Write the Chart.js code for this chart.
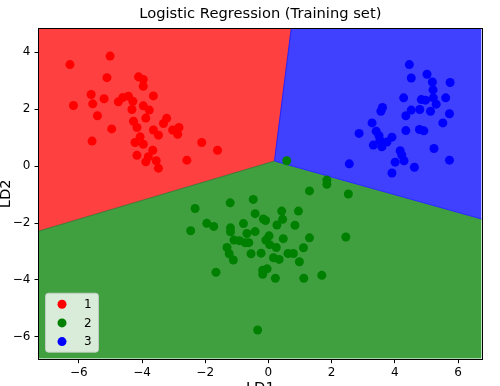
<!DOCTYPE html>
<html>
<head>
<meta charset="utf-8">
<script src="https://cdn.jsdelivr.net/npm/chart.js@4.4.1/dist/chart.umd.min.js"></script>
<style>
  html, body { margin: 0; padding: 0; background: #fff; }
  #wrap { width: 500px; height: 386px; }
</style>
</head>
<body>
<div id="wrap"><canvas id="chart" width="500" height="386"></canvas></div>
<script>
// axis limits and ticks
const xLimits = [-7.26, 6.75];
const yLimits = [-6.77, 4.82];
const xTicks = [-6, -4, -2, 0, 2, 4, 6];
const yTicks = [-6, -4, -2, 0, 2, 4];

// decision boundary: left edge -> meeting point -> top edge / right edge
const redGreenEdge = [[-7.26, -2.28], [0.19, 0.18]];
const redBlueEdge = [[0.19, 0.18], [0.72, 4.82]];
const blueGreenEdge = [[0.19, 0.18], [6.75, -1.86]];

// training points, one pair of arrays per class
const class1X = [-6.28, -5.01, -5.11, -4.11, -3.96, -3.96, -5.61, -5.20, -6.17, -5.56, -4.75, -4.61, -4.43, -4.29, -4.32,
  -3.96, -3.77, -3.64, -5.41, -3.88, -4.96, -4.27, -4.16, -3.22, -3.32, -3.64, -3.48, -3.03, -2.83, -2.87,
  -5.58, -4.06, -4.22, -3.96, -3.66, -4.16, -3.80, -3.88, -3.55, -3.48, -2.58, -2.11, -1.61];
const class1Y = [3.57, 3.87, 3.11, 3.14, 3.05, 2.81, 2.52, 2.37, 2.13, 2.19, 2.26, 2.41, 2.46, 2.28, 1.99,
  2.12, 1.97, 2.47, 1.77, 1.69, 1.31, 1.58, 1.36, 1.68, 1.50, 1.27, 1.09, 1.27, 1.36, 1.12,
  0.88, 1.03, 0.83, 0.77, 0.56, 0.38, 0.33, 0.15, 0.19, -0.07, 0.21, 0.83, 0.56];

const class2X = [0.58, 1.85, 1.85, 1.30, 2.53, -0.48, -1.21, -2.32, -0.42, 0.42, 0.95, -0.16, -0.09, 0.45, -1.95,
  -1.73, -0.79, 0.27, 0.84, -1.20, -1.20, -2.46, -0.68, -0.42, 0.02, 0.47, 1.30, 2.45, -1.09, -0.92,
  -0.74, -0.62, -0.08, 0.04, 0.25, 1.11, -1.31, -1.24, -1.11, -0.55, -0.23, 0.62, 0.79, 0.16, 0.34,
  0.98, -0.18, -0.04, -0.18, 0.22, 1.12, 1.69, -1.66, -0.34];
const class2Y = [0.19, -0.49, -0.64, -0.87, -0.98, -1.17, -1.29, -1.49, -1.67, -1.58, -1.58, -1.86, -1.91, -1.87, -2.01,
  -2.12, -2.02, -2.07, -2.08, -2.17, -2.31, -2.27, -2.37, -2.30, -2.45, -2.55, -2.52, -2.49, -2.60, -2.62,
  -2.69, -2.69, -2.60, -2.76, -2.86, -2.87, -2.86, -3.08, -3.30, -3.08, -3.06, -3.07, -3.07, -3.22, -3.28,
  -3.36, -3.66, -3.61, -3.80, -3.94, -3.94, -3.84, -3.73, -5.76];

const class3X = [4.46, 4.52, 5.02, 5.19, 5.75, 5.21, 4.28, 4.84, 4.97, 5.22, 5.31, 5.61, 3.61, 3.56, 4.52,
  4.79, 5.13, 4.35, 5.73, 5.52, 3.28, 2.87, 3.41, 3.50, 3.53, 3.91, 3.75, 3.32, 3.59, 4.35,
  4.78, 4.92, 4.17, 4.22, 4.29, 4.01, 3.91, 4.62, 5.24, 5.73, 2.56];
const class3Y = [3.57, 3.10, 3.23, 2.96, 2.94, 2.68, 2.40, 2.34, 2.32, 2.40, 2.18, 2.40, 2.06, 1.93, 1.97,
  1.99, 1.93, 1.77, 1.84, 1.52, 1.52, 1.15, 1.23, 1.07, 0.91, 1.02, 0.85, 0.74, 0.68, 1.25,
  1.29, 1.24, 0.54, 0.39, 0.19, 0.14, -0.24, -0.04, 0.62, 0.21, 0.08];

const classLabels = ['1', '2', '3'];
const pointColors = ['#ff0000', '#008000', '#0000ff'];
const regionColors = ['#ff4040', '#40a040', '#4040ff'];

const FONT = 'DejaVu Sans';
const toPts = (xs, ys) => xs.map((x, i) => ({x: x, y: ys[i]}));
const toXY = (pairs) => pairs.map(p => ({x: p[0], y: p[1]}));
const minus = (v) => String(v).replace('-', '\u2212');

// axes frame on all four sides
const frame = {
  id: 'frame',
  afterDatasetsDraw(chart) {
    const {ctx, chartArea: a} = chart;
    ctx.save();
    ctx.strokeStyle = '#000';
    ctx.lineWidth = 1;
    ctx.strokeRect(Math.round(a.left) - 0.5, Math.round(a.top) - 0.5,
      Math.round(a.right - a.left) + 1, Math.round(a.bottom - a.top) + 1);
    ctx.restore();
  }
};

// matplotlib-style legend in the lower left corner
const cornerLegend = {
  id: 'cornerLegend',
  afterDraw(chart) {
    const {ctx, chartArea: a} = chart;
    const x0 = a.left + 6, y0 = a.bottom - 66, w = 53, h = 59;
    ctx.save();
    ctx.beginPath();
    ctx.roundRect(x0 + 0.5, y0 + 0.5, w, h, 3);
    ctx.fillStyle = 'rgba(255,255,255,0.8)';
    ctx.fill();
    ctx.strokeStyle = 'rgba(204,204,204,0.8)';
    ctx.lineWidth = 1;
    ctx.stroke();
    ctx.font = '12px "' + FONT + '"';
    ctx.textBaseline = 'middle';
    ctx.textAlign = 'left';
    classLabels.forEach((lab, i) => {
      const cy = y0 + 11.5 + i * 18.7;
      ctx.beginPath();
      ctx.arc(x0 + 17, cy, 4.5, 0, Math.PI * 2);
      ctx.fillStyle = pointColors[i];
      ctx.fill();
      ctx.fillStyle = '#000';
      ctx.fillText(lab, x0 + 39, cy + 0.5);
    });
    ctx.restore();
  }
};

const regionLine = {
  type: 'line',
  pointRadius: 0,
  borderWidth: 0,
  borderColor: 'rgba(0,0,0,0)',
  tension: 0
};

const edgeLine = {
  type: 'line',
  pointRadius: 0,
  borderWidth: 1,
  fill: false,
  tension: 0,
  order: 0.5
};

new Chart(document.getElementById('chart'), {
  type: 'scatter',
  data: {
    datasets: [
      {label: classLabels[0], data: toPts(class1X, class1Y), backgroundColor: pointColors[0], order: 0},
      {label: classLabels[1], data: toPts(class2X, class2Y), backgroundColor: pointColors[1], order: 0},
      {label: classLabels[2], data: toPts(class3X, class3Y), backgroundColor: pointColors[2], order: 0},
      Object.assign({}, edgeLine, {data: toXY(redGreenEdge), borderColor: 'rgba(40,110,40,0.8)'}),
      Object.assign({}, edgeLine, {data: toXY(redBlueEdge), borderColor: 'rgba(30,30,255,0.9)'}),
      Object.assign({}, edgeLine, {data: toXY(blueGreenEdge), borderColor: 'rgba(30,30,255,0.9)'}),
      Object.assign({}, regionLine, {
        data: toXY([redGreenEdge[0], redGreenEdge[1], redBlueEdge[1]]),
        fill: 'end', backgroundColor: regionColors[0], order: 1
      }),
      Object.assign({}, regionLine, {
        data: toXY(blueGreenEdge),
        fill: 'end', backgroundColor: regionColors[2], order: 2
      }),
      Object.assign({}, regionLine, {
        data: toXY([redGreenEdge[0], blueGreenEdge[0], blueGreenEdge[1]]),
        fill: 'start', backgroundColor: regionColors[1], order: 3
      })
    ]
  },
  options: {
    responsive: false,
    animation: false,
    events: [],
    layout: {padding: {left: 0, right: 18.3, top: 0, bottom: 0}},
    elements: {point: {radius: 4.5, borderWidth: 0}},
    plugins: {
      legend: {display: false},
      tooltip: {enabled: false},
      title: {
        display: true,
        text: 'Logistic Regression (Training set)',
        color: '#000',
        fullSize: false,
        font: {family: FONT, size: 14.7, weight: 'normal'},
        padding: {top: 5.8, bottom: 5.6}
      }
    },
    scales: {
      x: {
        type: 'linear',
        min: xLimits[0], max: xLimits[1],
        afterBuildTicks: s => { s.ticks = xTicks.map(v => ({value: v})); },
        afterFit: s => { s.height = 27.3; },
        grid: {display: true, drawOnChartArea: false, drawTicks: true, tickLength: 4.5, tickColor: '#000'},
        border: {display: false},
        ticks: {color: '#000', padding: 2, maxRotation: 0, font: {family: FONT, size: 12}, callback: minus},
        title: {display: true, text: 'LD1', color: '#000', font: {family: FONT, size: 14.7}, padding: {top: 0, bottom: -11}}
      },
      y: {
        type: 'linear',
        min: yLimits[0], max: yLimits[1],
        afterBuildTicks: s => { s.ticks = yTicks.map(v => ({value: v})); },
        afterFit: s => { s.width = 39; },
        grid: {display: true, drawOnChartArea: false, drawTicks: true, tickLength: 4.5, tickColor: '#000'},
        border: {display: false},
        ticks: {color: '#000', padding: 4, font: {family: FONT, size: 12}, callback: minus},
        title: {display: true, text: 'LD2', color: '#000', font: {family: FONT, size: 14.7}, padding: {top: -2.5, bottom: 0}}
      }
    }
  },
  plugins: [frame, cornerLegend]
});
</script>
</body>
</html>
